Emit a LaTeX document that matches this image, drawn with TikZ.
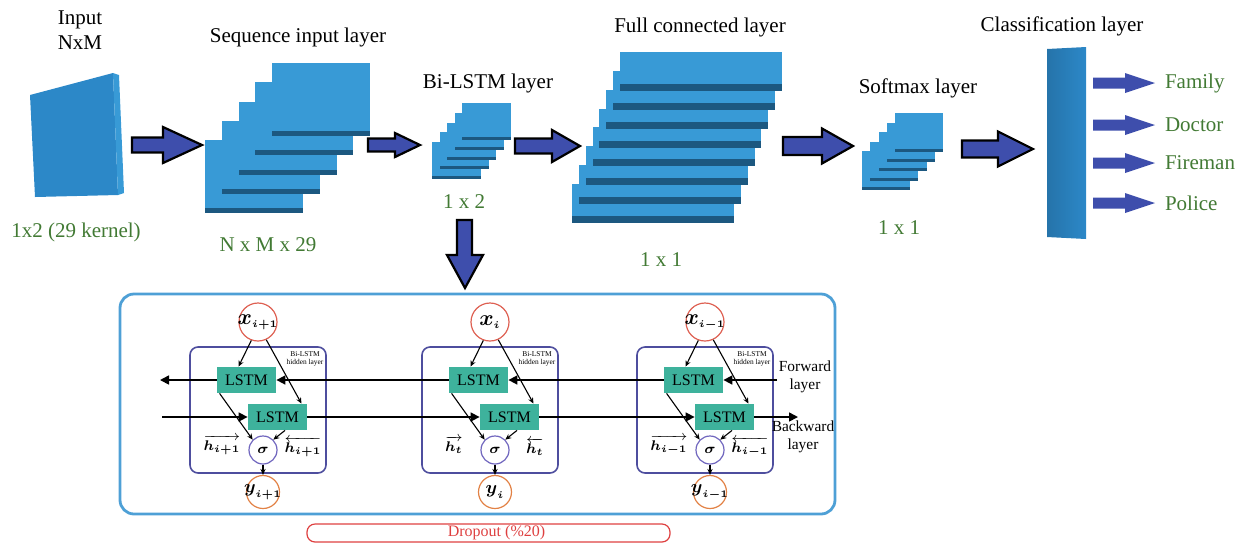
\documentclass[tikz,border=0pt]{standalone}
\usepackage{fontspec}
\setmainfont{Liberation Serif}
\usepackage{amsmath,amssymb}
\usepackage{tikz}
\usetikzlibrary{arrows.meta,positioning,calc}

\definecolor{sheetblue}{RGB}{56,154,214}
\definecolor{sheetdark}{RGB}{28,88,128}
\definecolor{slabblue}{RGB}{44,136,200}
\definecolor{arrowblue}{RGB}{62,78,172}
\definecolor{labelgreen}{RGB}{66,122,52}
\definecolor{frameblue}{RGB}{78,160,214}
\definecolor{cellblue}{RGB}{78,78,158}
\definecolor{lstmteal}{RGB}{62,178,156}
\definecolor{xred}{RGB}{222,96,82}
\definecolor{yorange}{RGB}{226,130,70}
\definecolor{sigpurple}{RGB}{112,102,190}
\definecolor{dropred}{RGB}{222,64,64}

% stack of sheets: front corner x, y, width, height, strip, step x, step y, last index
\newcommand{\sheetstack}[8]{%
  \foreach \k in {0,...,#8}{%
    \fill[sheetblue] ({#1+\k*#6},{#2-\k*#7}) rectangle ++(#3,#4);
    \fill[sheetdark] ({#1+\k*#6},{#2-\k*#7+#4-#5}) rectangle ++(#3,#5);
  }}

% block arrow: tail, head start, tip, centre y, half shaft, half head
\newcommand{\blockarrow}[7][bigarrow]{%
  \path[#1] (#2,{#5-#6}) -- (#3,{#5-#6}) -- (#3,{#5-#7}) -- (#4,#5)
    -- (#3,{#5+#7}) -- (#3,{#5+#6}) -- (#2,{#5+#6}) -- cycle;}

% circle text that keeps the circle at its set size
\newcommand{\cellvar}[2]{\makebox[0pt]{$\boldsymbol{#1}_{\scriptscriptstyle\boldsymbol{#2}}$}}

\begin{document}
\begin{tikzpicture}[x=0.5pt,y=-0.5pt,
  bigarrow/.style={fill=arrowblue,draw=black,line width=1.1pt,line join=miter},
  outarrow/.style={fill=arrowblue},
  lbl/.style={font=\fontsize{10.5}{12.5}\selectfont,align=center},
  dim/.style={lbl,text=labelgreen},
  lstm/.style={fill=lstmteal,minimum width=29.5pt,minimum height=13pt,inner sep=0pt,
    font=\fontsize{8}{9}\selectfont},
  xin/.style={circle,draw=xred,line width=0.6pt,minimum size=19pt,inner sep=0pt,
    font=\fontsize{11}{12}\selectfont},
  yout/.style={circle,draw=yorange,line width=0.6pt,minimum size=16.5pt,inner sep=0pt,
    font=\fontsize{9}{10}\selectfont},
  sig/.style={circle,draw=sigpurple,line width=0.6pt,minimum size=14pt,inner sep=0pt,
    font=\fontsize{7}{8}\selectfont},
  cellbox/.style={draw=cellblue,line width=0.8pt,rounded corners=4pt},
  flow/.style={-{Triangle[length=4.5pt,width=4.5pt]},line width=0.8pt},
  feed/.style={-{Stealth[length=3pt,width=2.6pt]},line width=0.55pt},
  hid/.style={font=\fontsize{3.7}{4.2}\selectfont,align=center},
  hlab/.style={font=\fontsize{7}{8}\selectfont},
  side/.style={font=\fontsize{7.7}{9}\selectfont,align=center},
  dropbox/.style={draw=dropred,line width=0.6pt,rounded corners=4pt,
    minimum width=181.5pt,minimum height=9pt}]
\useasboundingbox (0,0) rectangle (1244,543);

% input slab
\fill[slabblue] (30,95) -- (113,73) -- (118,195) -- (35,197) -- cycle;
\fill[sheetblue] (113,73) -- (119,75) -- (124,193) -- (118,195) -- cycle;
\node[lbl] (input) at (80,30.5) {Input\\NxM};
\node[dim] (kernel) at (76,232) {1x2 (29 kernel)};

% layer stacks
\sheetstack{205}{140}{98}{73}{5}{16.75}{19.25}{4}
\sheetstack{432}{142}{49}{37}{3}{7.5}{9.75}{4}
\sheetstack{572}{184}{162}{39}{7}{6.86}{18.86}{7}
\sheetstack{862}{151}{48}{39}{3}{8.25}{9.5}{4}
\shade[left color=slabblue!85!black,right color=slabblue] (1047,49) -- (1086,47) -- (1086,239) -- (1047,237) -- cycle;

\node[lbl] (seq) at (298,37) {Sequence input layer};
\node[dim] (seqdim) at (268,245) {N x M x 29};
\node[lbl] (bilstm) at (488,83) {Bi-LSTM layer};
\node[dim] (bidim) at (464,202) {1 x 2};
\node[lbl] (fc) at (700,27) {Full connected layer};
\node[dim] (fcdim) at (661,260) {1 x 1};
\node[lbl] (soft) at (918,88) {Softmax layer};
\node[dim] (softdim) at (899,228) {1 x 1};
\node[lbl] (cls) at (1062,26) {Classification layer};

% arrows between layers
\blockarrow{132}{163}{202}{145}{7.5}{18}
\blockarrow{368}{395}{420}{145}{6.5}{12}
\blockarrow{515}{552}{580}{146}{7.5}{16}
\blockarrow{783}{822}{853}{146}{9}{17.5}
\blockarrow{962}{998}{1033}{149}{8.5}{17.5}
\path[bigarrow] (457,220) -- (472,220) -- (472,255) -- (483,255) -- (465,288)
  -- (447,255) -- (457,255) -- cycle;

% output classes
\foreach \cname/\yy in {Family/83,Doctor/125,Fireman/163,Police/203}{
  \blockarrow[outarrow]{1093}{1125}{1155}{\yy}{5.5}{10}
  \node[dim,anchor=west] (\cname) at (1158,\yy) {\cname};
}

% unrolled Bi-LSTM
\draw[frameblue,line width=1.4pt,rounded corners=7pt] (120,294) rectangle (835,514);

\foreach \c/\L/\xs/\hs in {a/190/{i+1}/{i+1},b/422/{i}/{t},c/637/{i-1}/{i-1}}{
  \draw[cellbox] (\L,347) rectangle ({\L+136},473);
  \node[xin] (x\c) at ({\L+68},322) {\cellvar{x}{\xs}};
  \node[lstm] (u\c) at ({\L+56.5},380) {LSTM};
  \node[lstm] (l\c) at ({\L+87.5},417) {LSTM};
  \node[sig] (s\c) at ({\L+73},450) {$\boldsymbol{\sigma}$};
  \node[yout] (y\c) at ({\L+73},492) {\cellvar{y}{\xs}};
  \node[hid] (hid\c) at ({\L+115},359) {Bi-LSTM\\hidden layer};
  \node[hlab] (hf\c) at ({\L+32},445) {$\overrightarrow{\boldsymbol{h}_{\boldsymbol{\hs}}}$};
  \node[hlab] (hb\c) at ({\L+113},447) {$\overleftarrow{\boldsymbol{h}_{\boldsymbol{\hs}}}$};
  \draw[feed] (x\c.250) -- ([xshift=-4pt]u\c.north);
  \draw[feed] (x\c.295) -- ([xshift=12pt]l\c.north);
  \draw[feed] ([xshift=1.5pt]u\c.south west) -- (s\c.135);
  \draw[feed] ([xshift=3.75pt]l\c.south) -- (s\c.45);
  \draw[feed] (s\c) -- (y\c);
}

\coordinate (fwdin) at (777,380);
\coordinate (fwdout) at (160,380);
\coordinate (bwdin) at (162,417);
\coordinate (bwdout) at (798,417);
\draw[flow] (fwdin) -- (uc.east);
\draw[flow] (uc.west) -- (ub.east);
\draw[flow] (ub.west) -- (ua.east);
\draw[flow] (ua.west) -- (fwdout);
\draw[flow] (bwdin) -- (la.west);
\draw[flow] (la.east) -- (lb.west);
\draw[flow] (lb.east) -- (lc.west);
\draw[flow] (lc.east) -- (bwdout);
\node[side] (fwd) at (805,377) {Forward\\layer};
\node[side] (bwd) at (803,437) {Backward\\layer};

\node[dropbox] (drop) at (488.5,533) {};
\node[font=\fontsize{8}{9}\selectfont,text=dropred] (droptxt) at ([xshift=4pt]drop.center) {Dropout (\%20)};
\end{tikzpicture}
\end{document}
